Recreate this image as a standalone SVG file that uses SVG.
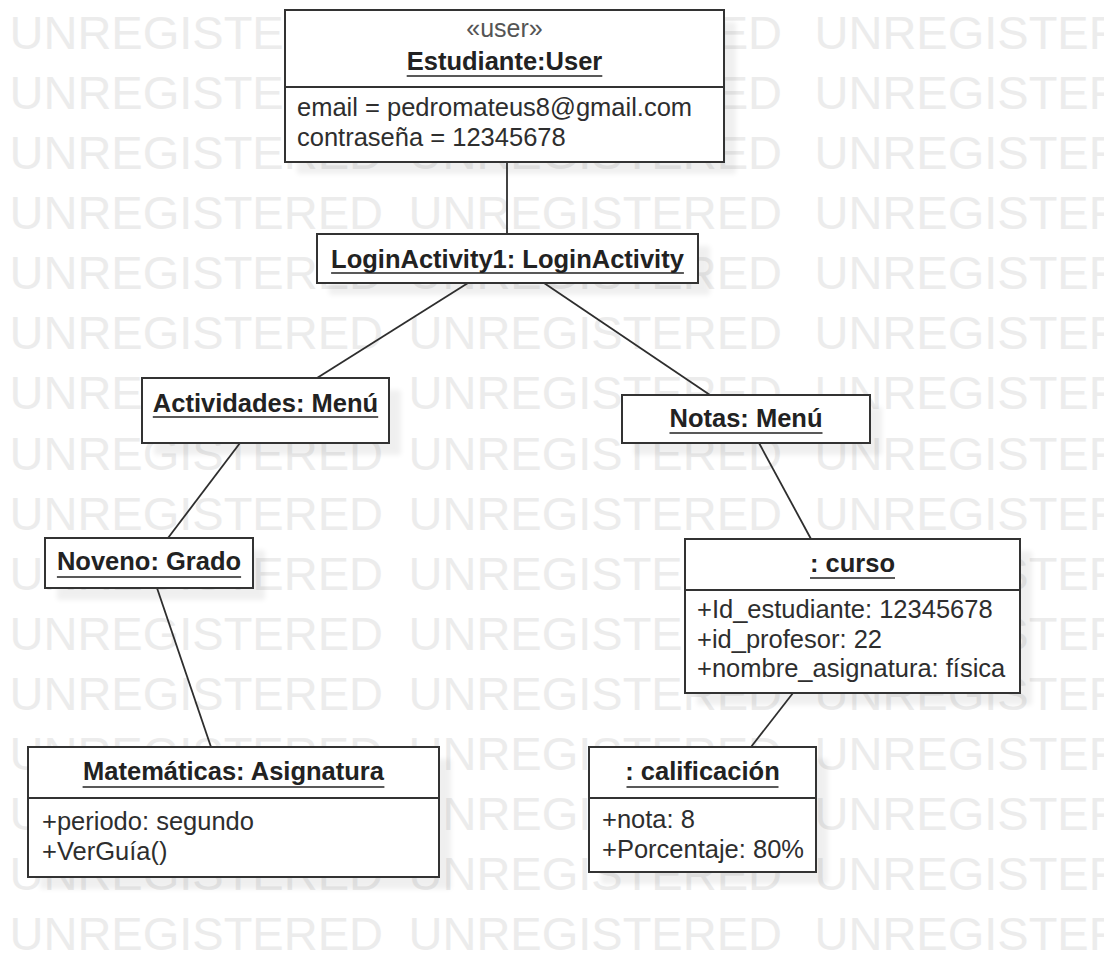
<svg xmlns="http://www.w3.org/2000/svg" width="1104" height="955" viewBox="0 0 1104 955">
  <style>
    .wm { font-family: "Liberation Sans", Arial, sans-serif; font-size: 47px; fill: #ececec; }
    .box { fill: #ffffff; stroke: #333333; stroke-width: 2; }
    .shadow { fill: #000000; opacity: 0.06; filter: url(#soft); }
    .div { stroke: #333333; stroke-width: 2; }
    .title { font-family: "Liberation Sans", Arial, sans-serif; font-size: 25.5px; font-weight: bold; fill: #222222; text-anchor: middle; }
    .ul { stroke: #222222; stroke-width: 1.6; }
    .attr { font-family: "Liberation Sans", Arial, sans-serif; font-size: 25.5px; fill: #2e2e2e; }
    .stereo { font-family: "Liberation Sans", Arial, sans-serif; font-size: 25px; fill: #555555; text-anchor: middle; }
    .link { stroke: #2e2e2e; stroke-width: 1.8; fill: none; }
  </style>
  <defs>
    <filter id="soft" x="-10%" y="-10%" width="120%" height="120%">
      <feGaussianBlur stdDeviation="2.5"/>
    </filter>
  </defs>

  <rect width="1104" height="955" fill="#ffffff"/>

  <!-- background watermark, three columns per row -->
  <g id="watermark">
    <text class="wm" x="9.5" y="49">UNREGISTERED</text><text class="wm" x="408.5" y="49">UNREGISTERED</text><text class="wm" x="814.5" y="49">UNREGISTERED</text>
    <text class="wm" x="9.5" y="109">UNREGISTERED</text><text class="wm" x="408.5" y="109">UNREGISTERED</text><text class="wm" x="814.5" y="109">UNREGISTERED</text>
    <text class="wm" x="9.5" y="169">UNREGISTERED</text><text class="wm" x="408.5" y="169">UNREGISTERED</text><text class="wm" x="814.5" y="169">UNREGISTERED</text>
    <text class="wm" x="9.5" y="229">UNREGISTERED</text><text class="wm" x="408.5" y="229">UNREGISTERED</text><text class="wm" x="814.5" y="229">UNREGISTERED</text>
    <text class="wm" x="9.5" y="289">UNREGISTERED</text><text class="wm" x="408.5" y="289">UNREGISTERED</text><text class="wm" x="814.5" y="289">UNREGISTERED</text>
    <text class="wm" x="9.5" y="349">UNREGISTERED</text><text class="wm" x="408.5" y="349">UNREGISTERED</text><text class="wm" x="814.5" y="349">UNREGISTERED</text>
    <text class="wm" x="9.5" y="409">UNREGISTERED</text><text class="wm" x="408.5" y="409">UNREGISTERED</text><text class="wm" x="814.5" y="409">UNREGISTERED</text>
    <text class="wm" x="9.5" y="470">UNREGISTERED</text><text class="wm" x="408.5" y="470">UNREGISTERED</text><text class="wm" x="814.5" y="470">UNREGISTERED</text>
    <text class="wm" x="9.5" y="530">UNREGISTERED</text><text class="wm" x="408.5" y="530">UNREGISTERED</text><text class="wm" x="814.5" y="530">UNREGISTERED</text>
    <text class="wm" x="9.5" y="590">UNREGISTERED</text><text class="wm" x="408.5" y="590">UNREGISTERED</text><text class="wm" x="814.5" y="590">UNREGISTERED</text>
    <text class="wm" x="9.5" y="650">UNREGISTERED</text><text class="wm" x="408.5" y="650">UNREGISTERED</text><text class="wm" x="814.5" y="650">UNREGISTERED</text>
    <text class="wm" x="9.5" y="710">UNREGISTERED</text><text class="wm" x="408.5" y="710">UNREGISTERED</text><text class="wm" x="814.5" y="710">UNREGISTERED</text>
    <text class="wm" x="9.5" y="770">UNREGISTERED</text><text class="wm" x="408.5" y="770">UNREGISTERED</text><text class="wm" x="814.5" y="770">UNREGISTERED</text>
    <text class="wm" x="9.5" y="830">UNREGISTERED</text><text class="wm" x="408.5" y="830">UNREGISTERED</text><text class="wm" x="814.5" y="830">UNREGISTERED</text>
    <text class="wm" x="9.5" y="890">UNREGISTERED</text><text class="wm" x="408.5" y="890">UNREGISTERED</text><text class="wm" x="814.5" y="890">UNREGISTERED</text>
    <text class="wm" x="9.5" y="950">UNREGISTERED</text><text class="wm" x="408.5" y="950">UNREGISTERED</text><text class="wm" x="814.5" y="950">UNREGISTERED</text>
  </g>

  <!-- drop shadows under the object boxes -->
  <g id="shadows">
    <rect class="shadow" x="297" y="22" width="439" height="152"/>
    <rect class="shadow" x="329" y="246" width="381" height="49"/>
    <rect class="shadow" x="154" y="390" width="247" height="65"/>
    <rect class="shadow" x="634" y="407" width="248" height="48"/>
    <rect class="shadow" x="57" y="550" width="208" height="50"/>
    <rect class="shadow" x="697" y="551" width="335" height="154"/>
    <rect class="shadow" x="40" y="759" width="411" height="130"/>
    <rect class="shadow" x="601" y="759" width="227" height="125"/>
  </g>

  <!-- links between objects -->
  <g id="links">
    <line class="link" x1="507" y1="162" x2="507" y2="234"/>
    <line class="link" x1="468" y1="283" x2="317" y2="378"/>
    <line class="link" x1="544" y1="283" x2="710" y2="395"/>
    <line class="link" x1="240" y1="443" x2="168" y2="538"/>
    <line class="link" x1="157" y1="588" x2="211" y2="747"/>
    <line class="link" x1="759" y1="443" x2="811" y2="539"/>
    <line class="link" x1="793" y1="693" x2="751" y2="747"/>
  </g>

  <g id="estudiante">
    <rect class="box" x="285" y="10" width="439" height="152"/>
    <line class="div" x1="285" y1="87" x2="724" y2="87"/>
    <text class="stereo" x="504.5" y="37">«user»</text>
    <text class="title" x="504.5" y="70">Estudiante:User</text>
    <line class="ul" x1="406.7" y1="76" x2="602.3" y2="76"/>
    <text class="attr" x="297" y="116">email = pedromateus8@gmail.com</text>
    <text class="attr" x="297" y="146">contraseña = 12345678</text>
  </g>

  <g id="login-activity">
    <rect class="box" x="317" y="234" width="381" height="49"/>
    <text class="title" x="507.5" y="268">LoginActivity1: LoginActivity</text>
    <line class="ul" x1="331.1" y1="273" x2="683.9" y2="273"/>
  </g>

  <g id="actividades">
    <rect class="box" x="142" y="378" width="247" height="65"/>
    <text class="title" x="265.5" y="412">Actividades: Menú</text>
    <line class="ul" x1="152.8" y1="417" x2="378.2" y2="417"/>
  </g>

  <g id="notas">
    <rect class="box" x="622" y="395" width="248" height="48"/>
    <text class="title" x="746" y="427">Notas: Menú</text>
    <line class="ul" x1="669.5" y1="433" x2="822.5" y2="433"/>
  </g>

  <g id="noveno">
    <rect class="box" x="45" y="538" width="208" height="50"/>
    <text class="title" x="149" y="570">Noveno: Grado</text>
    <line class="ul" x1="56.9" y1="577" x2="241.1" y2="577"/>
  </g>

  <g id="curso">
    <rect class="box" x="685" y="539" width="335" height="154"/>
    <line class="div" x1="685" y1="590" x2="1020" y2="590"/>
    <text class="title" x="852.5" y="572">: curso</text>
    <line class="ul" x1="810" y1="578" x2="895" y2="578"/>
    <text class="attr" x="697" y="618">+Id_estudiante: 12345678</text>
    <text class="attr" x="697" y="648">+id_profesor: 22</text>
    <text class="attr" x="697" y="677">+nombre_asignatura: física</text>
  </g>

  <g id="matematicas">
    <rect class="box" x="28" y="747" width="411" height="130"/>
    <line class="div" x1="28" y1="798" x2="439" y2="798"/>
    <text class="title" x="233.5" y="780">Matemáticas: Asignatura</text>
    <line class="ul" x1="82.6" y1="787" x2="384.4" y2="787"/>
    <text class="attr" x="42" y="830">+periodo: segundo</text>
    <text class="attr" x="42" y="860">+VerGuía()</text>
  </g>

  <g id="calificacion">
    <rect class="box" x="589" y="747" width="227" height="125"/>
    <line class="div" x1="589" y1="798" x2="816" y2="798"/>
    <text class="title" x="702.5" y="780">: calificación</text>
    <line class="ul" x1="626.5" y1="787" x2="778.5" y2="787"/>
    <text class="attr" x="602" y="828">+nota: 8</text>
    <text class="attr" x="602" y="858">+Porcentaje: 80%</text>
  </g>
</svg>
